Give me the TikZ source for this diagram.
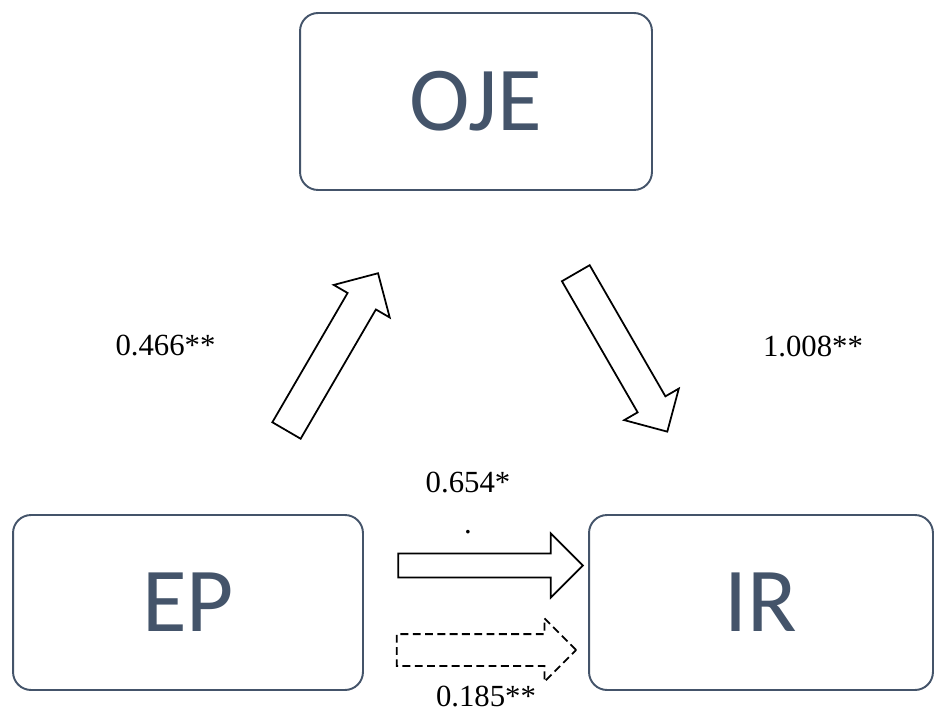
\documentclass[tikz,border=0pt]{standalone}
\usepackage{fontspec}
\setmainfont{Liberation Serif}
\newfontfamily\boxfont{Carlito}
\usetikzlibrary{shapes.arrows}
\definecolor{boxblue}{HTML}{44546A}

\begin{document}
\begin{tikzpicture}[x=0.02cm, y=-0.02cm,
    var/.style={draw=boxblue, line width=1.1pt, rounded corners=0.36cm,
      minimum height=3.5cm, text=boxblue,
      font=\boxfont\fontsize{52}{60}\selectfont},
    blockarrow/.style={single arrow, draw, line width=1pt, fill=white,
      inner xsep=0pt, outer sep=0pt, anchor=tail},
    coef/.style={font=\fontsize{17.5}{21}\selectfont}]
        \useasboundingbox (0,0) rectangle (934,713);
        % the three variables
        \node[var, minimum width=7.04cm, minimum height=3.54cm] (oje) at (476,101.5) {OJE};
        \node[var, minimum width=7cm] (ep) at (188,602.5) {EP};
        \node[var, minimum width=6.88cm] (ir) at (761,602.5) {IR};
        % paths
        \node[blockarrow, rotate=59.8, inner ysep=0.31cm,
          single arrow head extend=0.32cm, minimum height=3.64cm] (a) at (286.5,430.5) {};
        \node[blockarrow, rotate=-60, inner ysep=0.303cm,
          single arrow head extend=0.31cm, minimum height=3.66cm] (b) at (575.8,273.2) {};
        \node[blockarrow, inner ysep=0.223cm,
          single arrow head extend=0.4cm, minimum height=3.69cm] (c) at (398.3,565.5) {};
        \node[blockarrow, dash pattern=on 4.5pt off 2.5pt, inner ysep=0.3cm,
          single arrow head extend=0.317cm, minimum height=3.59cm] (cp) at (396.7,650) {};
        % coefficients
        \node[coef] (ka) at (165.5,345) {0.466**};
        \node[coef] (kb) at (813,346.5) {1.008**};
        \node[coef] (kc) at (468,482.5) {0.654*};
        \node[coef, inner sep=0pt] (dot) at (468,532) {.};
        \node[coef] (kcp) at (486,696.5) {0.185**};
\end{tikzpicture}
\end{document}
